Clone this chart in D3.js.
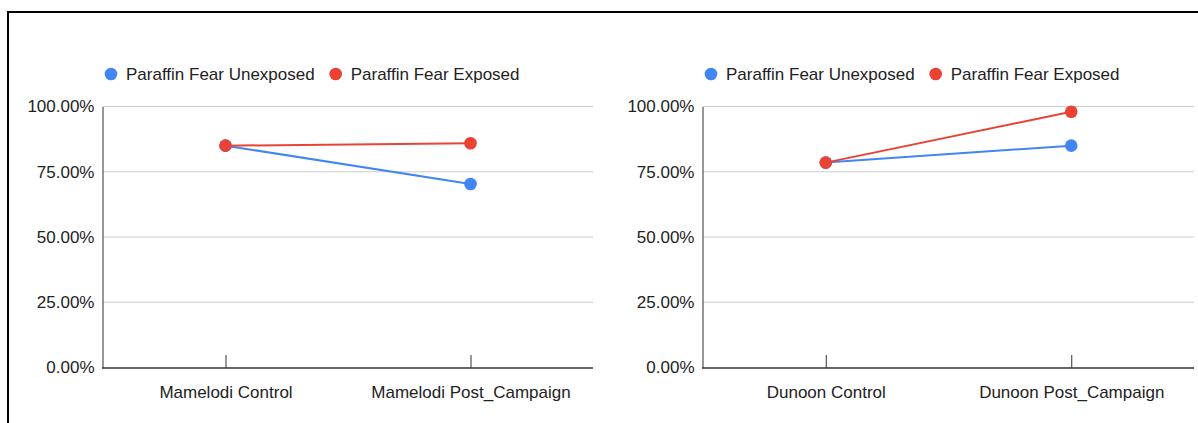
<!DOCTYPE html>
<html>
<head>
<meta charset="utf-8">
<script src="https://cdn.jsdelivr.net/npm/d3@7"></script>
<style>
  html, body { margin: 0; padding: 0; background: #fff; }
  svg { display: block; }
  text { font-family: "Liberation Sans", Arial, sans-serif; }
</style>
</head>
<body>
<svg id="chart" width="1198" height="423"></svg>
<script>
// Share of respondents reporting paraffin fear, by area and survey wave
const seriesNames = ["Paraffin Fear Unexposed", "Paraffin Fear Exposed"];
const seriesColors = ["#4285F4", "#EA4335"];

const mamelodiCategories = ["Mamelodi Control", "Mamelodi Post_Campaign"];
const mamelodiUnexposed = [0.850, 0.703];
const mamelodiExposed = [0.850, 0.859];

const dunoonCategories = ["Dunoon Control", "Dunoon Post_Campaign"];
const dunoonUnexposed = [0.785, 0.850];
const dunoonExposed = [0.785, 0.980];

const yTickValues = [0, 0.25, 0.5, 0.75, 1];

const svg = d3.select("#chart");
const fontSize = "17px";

// Frame around the figure (top and left edges)
svg.append("path")
  .attr("d", "M8,423 L8,12 L1198,12")
  .attr("fill", "none")
  .attr("stroke", "#000")
  .attr("stroke-width", 2);

const fmt = d3.format(".2%");

function drawPanel(left, right, categories, unexposed, exposed) {
  const top = 106.5, bottom = 367.5;
  const g = svg.append("g");

  const x = d3.scalePoint().domain(categories).range([left, right]).padding(0.5);
  const y = d3.scaleLinear().domain([0, 1]).range([bottom, top]);

  // Horizontal gridlines
  g.selectAll("line.grid")
    .data(yTickValues.filter(v => v > 0))
    .join("line")
    .attr("class", "grid")
    .attr("x1", left).attr("x2", right)
    .attr("y1", d => y(d)).attr("y2", d => y(d))
    .attr("stroke", "#cccccc")
    .attr("stroke-width", 1);

  // Y axis
  const yAxis = g.append("g")
    .attr("transform", `translate(${left - 0.5},0)`)
    .call(d3.axisLeft(y).tickValues(yTickValues).tickFormat(fmt).tickSize(0).tickPadding(8));
  yAxis.select(".domain").attr("stroke", "#333").attr("stroke-width", 1);
  yAxis.selectAll("text")
    .attr("fill", "#222")
    .style("font-size", fontSize)
    .style("font-family", "'Liberation Sans', Arial, sans-serif");

  // X axis with ticks pointing into the plot
  const xAxis = g.append("g")
    .attr("transform", `translate(0,${bottom + 0.5})`)
    .call(d3.axisBottom(x).tickSizeInner(-13).tickSizeOuter(0).tickPadding(18));
  xAxis.select(".domain").attr("stroke", "#333").attr("stroke-width", 1.3)
    .attr("d", `M${left - 1},0H${right}`);
  xAxis.selectAll(".tick line").attr("stroke", "#333");
  xAxis.selectAll("text")
    .attr("fill", "#222")
    .style("font-size", fontSize)
    .style("font-family", "'Liberation Sans', Arial, sans-serif");

  // Series lines and points
  const series = [unexposed, exposed];
  const line = d3.line().x((d, i) => x(categories[i])).y(d => y(d));
  series.forEach((vals, s) => {
    g.append("path")
      .datum(vals)
      .attr("d", line)
      .attr("fill", "none")
      .attr("stroke", seriesColors[s])
      .attr("stroke-width", 2);
  });
  series.forEach((vals, s) => {
    g.selectAll(null)
      .data(vals)
      .join("circle")
      .attr("cx", (d, i) => x(categories[i]))
      .attr("cy", d => y(d))
      .attr("r", 6.3)
      .attr("fill", seriesColors[s]);
  });

  // Legend
  const leg = g.append("g").attr("transform", `translate(${left + 8},74)`);
  let cx = 0;
  seriesNames.forEach((name, s) => {
    leg.append("circle").attr("cx", cx).attr("cy", 0).attr("r", 6.3).attr("fill", seriesColors[s]);
    const t = leg.append("text")
      .attr("x", cx + 15)
      .attr("y", 0)
      .attr("dy", "0.35em")
      .attr("fill", "#222")
      .style("font-size", fontSize)
      .text(name);
    cx = cx + 15 + t.node().getComputedTextLength() + 21;
  });
}

drawPanel(103, 593, mamelodiCategories, mamelodiUnexposed, mamelodiExposed);
drawPanel(703, 1194, dunoonCategories, dunoonUnexposed, dunoonExposed);
</script>
</body>
</html>
